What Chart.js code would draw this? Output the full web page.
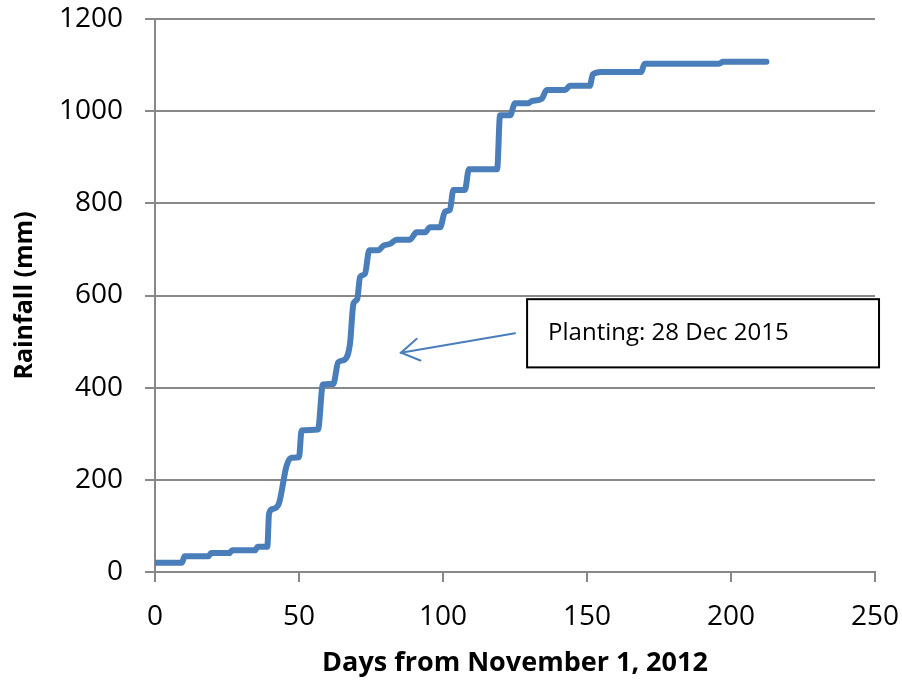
<!DOCTYPE html>
<html>
<head>
<meta charset="utf-8">
<script src="https://cdn.jsdelivr.net/npm/chart.js@4"></script>
<style>
  html, body { margin: 0; padding: 0; background: #fff; }
  .chart__box { width: 902px; height: 680px; position: relative; }
</style>
</head>
<body>
<div class="chart__box"><canvas id="rainChart"></canvas></div>
<script>
// cumulative rainfall (breakpoints of the steps)
const days = [0, 9.3, 10.3, 18.5, 19.5, 25.8, 26.8, 34.7, 35.7, 39, 39.6, 41, 43, 45.7, 47.4, 50,
  50.9, 56.6, 58.3, 61.9, 63.6, 65.9, 67.7, 68.9, 70.2, 71.2, 72.9, 74.4, 77.5, 79.3, 81.6, 83.9,
  88.5, 90.8, 93.7, 95.5, 99, 100.7, 102.4, 103.6, 107.6, 109, 118.8, 119.8, 123.3, 125, 129.6,
  130.8, 134.3, 136, 142.4, 144.1, 151, 152, 155, 168.8, 170, 195.6, 197.3, 212.3]
const rainfall = [20, 20, 34, 34, 41, 41, 47, 47, 55, 55, 127, 137, 148, 231, 248, 249,
  307, 309, 407, 408, 455, 461, 495, 582, 592, 640, 647, 698, 698, 708, 712, 721,
  721, 737, 737, 748, 748, 782, 786, 829, 829, 874, 874, 991, 991, 1017, 1017,
  1022, 1027, 1046, 1046, 1055, 1055, 1080, 1085, 1085, 1103, 1103, 1107, 1107]

const xTicks = [0, 50, 100, 150, 200, 250]
const yTicks = [0, 200, 400, 600, 800, 1000, 1200]

const noteText = 'Planting: 28 Dec 2015'

const gridColor = '#888888'
const lineColor = '#4A7EBB'

const annotationPlugin = {
  id: 'planting',
  afterDraw: chart => {
    const ctx = chart.ctx
    const x = chart.scales.x
    const y = chart.scales.y

    // note box
    const left = x.getPixelForValue(129.2)
    const right = x.getPixelForValue(251.4)
    const top = y.getPixelForValue(592)
    const bottom = y.getPixelForValue(444)
    ctx.save()
    ctx.fillStyle = '#fff'
    ctx.fillRect(left, top, right - left, bottom - top)
    ctx.strokeStyle = '#000'
    ctx.lineWidth = 2
    ctx.strokeRect(left, top, right - left, bottom - top)
    ctx.fillStyle = '#000'
    ctx.font = '24px "Open Sans"'
    ctx.textBaseline = 'middle'
    ctx.fillText(noteText, left + 21, (top + bottom) / 2)

    // arrow
    const tx = x.getPixelForValue(85.4)
    const ty = y.getPixelForValue(476)
    const sx = x.getPixelForValue(125)
    const sy = y.getPixelForValue(518)
    ctx.strokeStyle = lineColor
    ctx.lineWidth = 2
    ctx.lineCap = 'round'
    ctx.beginPath()
    ctx.moveTo(sx, sy)
    ctx.lineTo(tx, ty)
    ctx.stroke()
    const ang = Math.atan2(sy - ty, sx - tx)
    const len = 21
    ctx.beginPath()
    ctx.moveTo(tx + len * Math.cos(ang - 0.55), ty + len * Math.sin(ang - 0.55))
    ctx.lineTo(tx, ty)
    ctx.lineTo(tx + len * Math.cos(ang + 0.55), ty + len * Math.sin(ang + 0.55))
    ctx.stroke()
    ctx.restore()
  }
}

const chartRain = () => {
  const ctx = document.getElementById('rainChart').getContext('2d')
  const data = {
    datasets: [
      {
        label: 'Rainfall',
        data: days.map((d, i) => ({ x: d, y: rainfall[i] })),
        showLine: true,
        fill: false,
        radius: 0,
        borderWidth: 6,
        borderColor: lineColor,
        backgroundColor: lineColor,
        borderCapStyle: 'round',
        borderJoinStyle: 'round',
        cubicInterpolationMode: 'monotone'
      }
    ]
  }
  const config = {
    type: 'scatter',
    data: data,
    options: {
      responsive: true,
      maintainAspectRatio: false,
      animation: false,
      layout: {
        padding: { top: 0, right: 0, left: 10, bottom: 0 }
      },
      plugins: {
        legend: { display: false },
        tooltip: { enabled: false }
      },
      scales: {
        x: {
          type: 'linear',
          min: 0,
          max: 250,
          afterBuildTicks: scale => {
            scale.ticks = xTicks.map(v => ({ value: v }))
          },
          afterFit: scale => {
            scale.height = 108
            scale.paddingLeft = 0
            scale.paddingRight = 27
          },
          grid: {
            drawOnChartArea: false,
            drawTicks: true,
            tickLength: 10,
            color: gridColor,
            lineWidth: 2
          },
          border: { color: gridColor, width: 2 },
          ticks: {
            color: '#000',
            padding: 18,
            maxRotation: 0,
            callback: v => String(v),
            font: { family: 'Open Sans', size: 28 }
          },
          title: {
            display: true,
            text: 'Days from November 1, 2012',
            color: '#000',
            padding: { top: 4, bottom: 0 },
            font: { family: 'Open Sans', size: 27, weight: 'bold' }
          }
        },
        y: {
          min: 0,
          max: 1200,
          afterBuildTicks: scale => {
            scale.ticks = yTicks.map(v => ({ value: v }))
          },
          afterFit: scale => {
            scale.width = 145
            scale.paddingTop = 19
            scale.paddingBottom = 0
          },
          grid: {
            drawTicks: true,
            tickLength: 10,
            color: gridColor,
            lineWidth: 2
          },
          border: { color: gridColor, width: 2 },
          ticks: {
            color: '#000',
            padding: 22,
            callback: v => String(v),
            font: { family: 'Open Sans', size: 28 }
          },
          title: {
            display: true,
            text: 'Rainfall (mm)',
            color: '#000',
            padding: { top: 0, bottom: 0 },
            font: { family: 'Open Sans', size: 25, weight: 'bold' }
          }
        }
      }
    },
    plugins: [annotationPlugin]
  }

  const rainChart = new Chart(ctx, config)
}

chartRain()
</script>
</body>
</html>
